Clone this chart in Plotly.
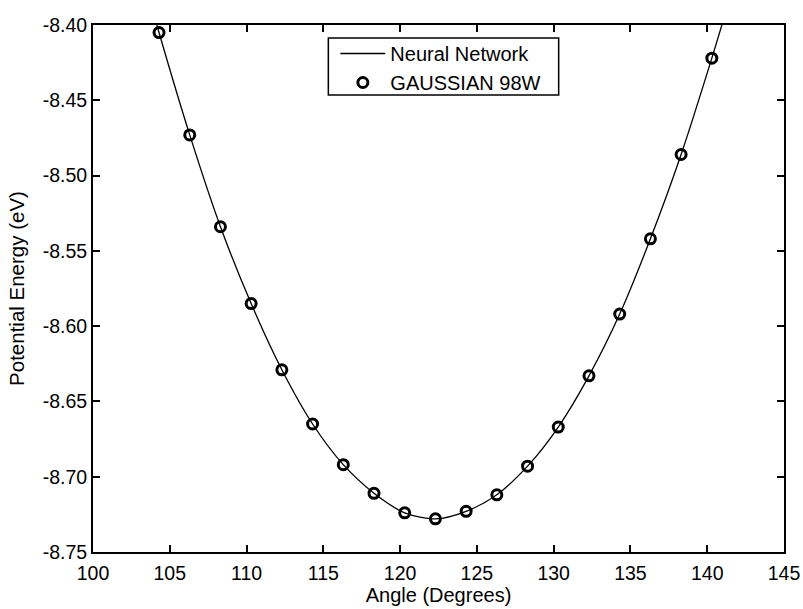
import plotly.graph_objects as go

# Bond angle scan: GAUSSIAN 98W reference energies
angle_deg = [104.3, 106.3, 108.3, 110.3, 112.3, 114.3, 116.3, 118.3, 120.3, 122.3,
             124.3, 126.3, 128.3, 130.3, 132.3, 134.3, 136.3, 138.3, 140.3]
gaussian_ev = [-8.405, -8.473, -8.534, -8.585, -8.629, -8.665, -8.692, -8.711, -8.724, -8.728,
               -8.723, -8.712, -8.693, -8.667, -8.633, -8.592, -8.542, -8.486, -8.422]

# Neural network prediction, evaluated slightly past the scanned range
nn_angle = [103.7] + angle_deg + [141.6]
nn_ev = [-8.383] + gaussian_ev + [-8.378]

x_ticks = [100, 105, 110, 115, 120, 125, 130, 135, 140, 145]
y_ticks = [-8.75, -8.70, -8.65, -8.60, -8.55, -8.50, -8.45, -8.40]
y_tick_text = ["-8.75", "-8.70", "-8.65", "-8.60", "-8.55", "-8.50", "-8.45", "-8.40"]

FONT = "Liberation Sans, Arial, Helvetica, sans-serif"

fig = go.Figure()
fig.add_trace(go.Scatter(
    x=nn_angle, y=nn_ev, mode="lines", name="Neural Network",
    line=dict(color="black", width=1.3, shape="spline", smoothing=0.8),
))
fig.add_trace(go.Scatter(
    x=angle_deg, y=gaussian_ev, mode="markers", name="GAUSSIAN 98W",
    marker=dict(symbol="circle-open", size=10, color="black", line=dict(width=3, color="black")),
))

axis_common = dict(
    showgrid=False, zeroline=False, showline=True, linecolor="black", linewidth=2,
    mirror="ticks", ticks="inside", ticklen=7, tickwidth=1.5, tickcolor="black",
    tickfont=dict(family=FONT, size=19.5, color="black"), automargin=False,
)

fig.update_xaxes(
    range=[100, 145], tickvals=x_ticks, ticklabelstandoff=3,
    title=dict(text="Angle (Degrees)", font=dict(family=FONT, size=20, color="black"), standoff=5),
    **axis_common,
)
fig.update_yaxes(
    range=[-8.75, -8.40], tickvals=y_ticks, ticktext=y_tick_text,
    title=dict(text="Potential Energy (eV)", font=dict(family=FONT, size=20.5, color="black"), standoff=12),
    **axis_common,
)

# Legend frame
fig.add_shape(type="rect", xref="paper", yref="paper",
              x0=(328 - 93) / 690, x1=(558 - 93) / 690,
              y0=1 - (95 - 25) / 527, y1=1 - (38 - 25) / 527,
              line=dict(color="black", width=1.5), fillcolor="white", layer="above")

fig.update_layout(
    width=803, height=609,
    margin=dict(l=93, r=19, t=25, b=57),
    paper_bgcolor="white", plot_bgcolor="white",
    showlegend=True,
    legend=dict(x=(335 - 93) / 690, y=1 - (34 - 25) / 527, xanchor="left", yanchor="top",
                bgcolor="rgba(0,0,0,0)", borderwidth=0,
                font=dict(family=FONT, size=20, color="black"),
                tracegroupgap=0, itemwidth=45),
)

fig.write_html("out.html")
